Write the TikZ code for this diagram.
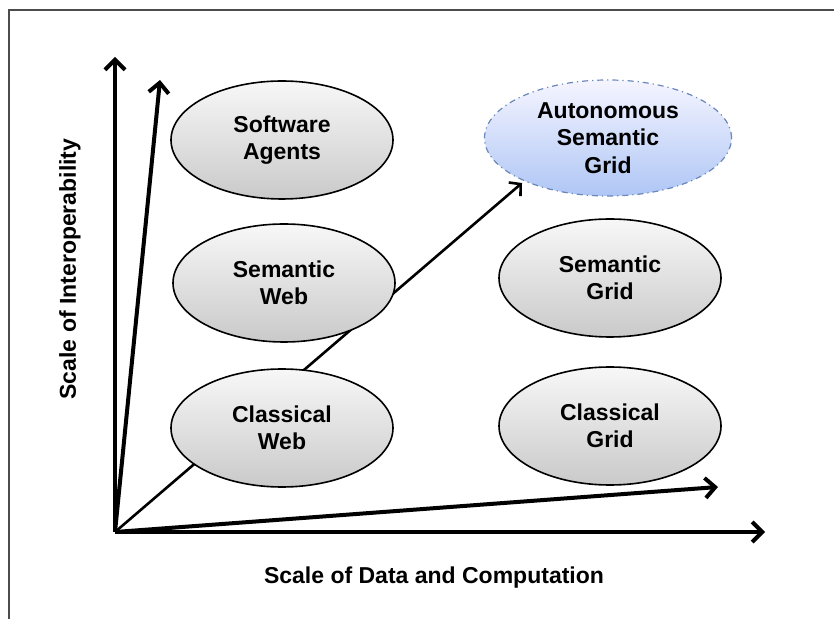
\documentclass[tikz,border=0pt]{standalone}
\usepackage{fontspec}
\setmainfont{Liberation Sans}
\usetikzlibrary{shapes.geometric,arrows.meta}
\newcommand{\lbl}{\fontsize{11.5}{13.75}\selectfont\bfseries}
\definecolor{gridblue}{RGB}{175,198,245}
\definecolor{gridedge}{RGB}{105,135,185}
\tikzset{
  bubble/.style={ellipse,draw=black,line width=0.8pt,top color=gray!6,bottom color=gray!42,
    inner sep=0pt,align=center,font=\lbl,minimum width=111pt,minimum height=59pt},
  axis/.style={line width=2pt,-{Straight Barb[length=5pt,width=10pt]}},
  frame/.style={line width=1pt,black!70}
}
\begin{document}
\begin{tikzpicture}[x=0.5pt,y=-0.5pt]
  \useasboundingbox (0,0) rectangle (834,619);
  \draw[frame] (834,10) -- (9,10) -- (9,619);
  % axes
  \coordinate (o) at (115,532);
  \coordinate (up) at (115,57);
  \coordinate (upr) at (160,80);
  \coordinate (right) at (765,532);
  \coordinate (rightup) at (718,487);
  \coordinate (diag) at (522,183);
  \draw[axis] (o) -- (up);
  \draw[axis] (o) -- (upr);
  \draw[axis] (o) -- (right);
  \draw[axis] (o) -- (rightup);
  \draw[line width=1.3pt,-{Straight Barb[length=4pt,width=9pt]}] (o) -- (diag);
  % bubbles
  \node[bubble] (agents) at (282,140) {Software\\Agents};
  \node[bubble] (sweb) at (284,283) {Semantic\\Web};
  \node[bubble] (cweb) at (282,428) {Classical\\Web};
  \node[bubble,minimum width=123.5pt,minimum height=58pt,top color=blue!4,bottom color=gridblue,
    draw=gridedge,line width=0.6pt,dash dot] (asgrid) at (608,138) {Autonomous\\Semantic\\Grid};
  \node[bubble] (sgrid) at (610,278) {Semantic\\Grid};
  \node[bubble] (cgrid) at (610,426) {Classical\\Grid};
  % axis labels
  \node[font=\lbl,rotate=90] (ylab) at (70,269) {Scale of Interoperability};
  \node[font=\lbl] (xlab) at (434,578) {Scale of Data and Computation};
\end{tikzpicture}
\end{document}
